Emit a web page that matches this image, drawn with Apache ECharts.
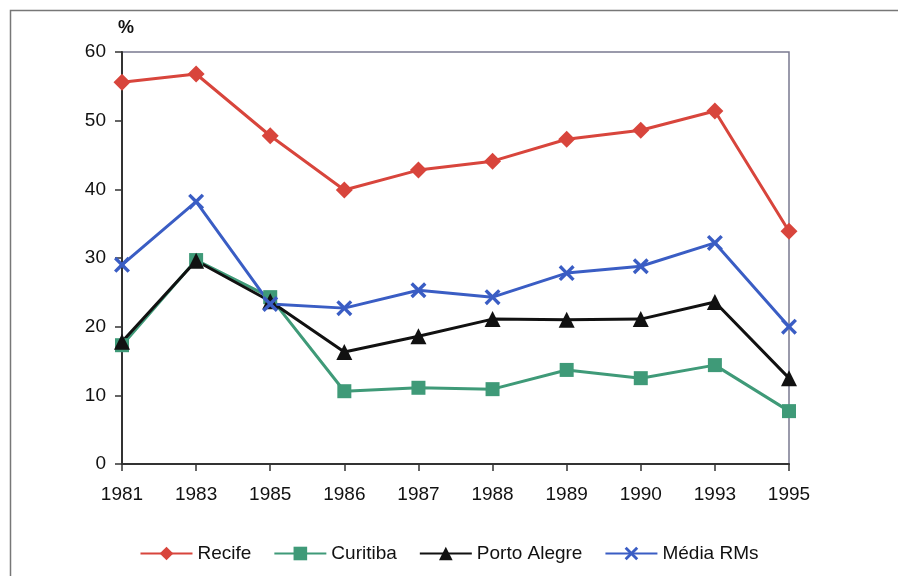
<!DOCTYPE html>
<html>
<head>
<meta charset="utf-8">
<title>Recife, Curitiba, Porto Alegre, Média RMs</title>
<script src="https://cdn.jsdelivr.net/npm/echarts@6/dist/echarts.min.js"></script>
<style>
  html, body { margin: 0; padding: 0; background: #fff; }
  #chart { width: 898px; height: 576px; }
</style>
</head>
<body>
<div id="chart"></div>
<script>
// anos (eixo x)
const years = ['1981', '1983', '1985', '1986', '1987', '1988', '1989', '1990', '1993', '1995']

// valores em %
const recife = [55.6, 56.8, 47.8, 39.9, 42.8, 44.1, 47.3, 48.6, 51.4, 33.9]
const curitiba = [17.3, 29.7, 24.3, 10.6, 11.1, 10.9, 13.7, 12.5, 14.4, 7.7]
const portoAlegre = [17.8, 29.6, 23.7, 16.3, 18.6, 21.1, 21.0, 21.1, 23.6, 12.5]
const mediaRMs = [29.0, 38.2, 23.3, 22.7, 25.3, 24.3, 27.8, 28.8, 32.2, 20.0]

const font = 'Liberation Sans, Arial, sans-serif'
// marcador em X
const crossPath = 'path://M0,1.5 L1.5,0 L5,3.5 L8.5,0 L10,1.5 L6.5,5 L10,8.5 L8.5,10 L5,6.5 L1.5,10 L0,8.5 L3.5,5 Z'

function makeSeries (name, data, color, symbol, size) {
  return {
    name: name,
    type: 'line',
    data: data,
    symbol: symbol,
    symbolSize: size,
    lineStyle: { color: color, width: 3 },
    itemStyle: { color: color, borderWidth: 0 },
    emphasis: { disabled: true },
    animation: false
  }
}

const myChart = echarts.init(document.getElementById('chart'))
myChart.setOption({
  backgroundColor: '#fff',
  textStyle: { fontFamily: font },
  graphic: [
    // moldura externa
    {
      type: 'rect',
      shape: { x: 10.5, y: 10.5, width: 900, height: 600 },
      style: { fill: 'none', stroke: '#777', lineWidth: 1.5 }
    },
    {
      type: 'text',
      left: 118,
      top: 19,
      style: { text: '%', font: 'bold 18px ' + font, fill: '#111' }
    }
  ],
  grid: {
    left: 122,
    right: 109,
    top: 52,
    bottom: 112,
    show: true,
    borderColor: '#7a7a90',
    borderWidth: 1.5
  },
  legend: {
    bottom: 8,
    left: 'center',
    itemWidth: 52,
    itemHeight: 17,
    itemGap: 22,
    textStyle: { fontSize: 19, color: '#111', fontFamily: font },
    data: ['Recife', 'Curitiba', 'Porto Alegre', 'Média RMs']
  },
  xAxis: {
    type: 'category',
    data: years,
    boundaryGap: false,
    axisLine: { lineStyle: { color: '#333', width: 2 } },
    axisTick: { show: true, length: 7, lineStyle: { color: '#333', width: 1.5 } },
    axisLabel: { fontSize: 19, color: '#111', margin: 21 },
    splitLine: { show: false }
  },
  yAxis: {
    type: 'value',
    min: 0,
    max: 60,
    interval: 10,
    axisLine: { show: true, lineStyle: { color: '#333', width: 2 } },
    axisTick: { show: true, length: 7, lineStyle: { color: '#333', width: 1.5 } },
    axisLabel: { fontSize: 19, color: '#111', margin: 16 },
    splitLine: { show: false }
  },
  series: [
    makeSeries('Recife', recife, '#d8453c', 'diamond', 17),
    makeSeries('Curitiba', curitiba, '#3f9a78', 'rect', 14),
    makeSeries('Porto Alegre', portoAlegre, '#111111', 'triangle', 16),
    makeSeries('Média RMs', mediaRMs, '#3a5dc4', crossPath, 16)
  ]
})
</script>
</body>
</html>
